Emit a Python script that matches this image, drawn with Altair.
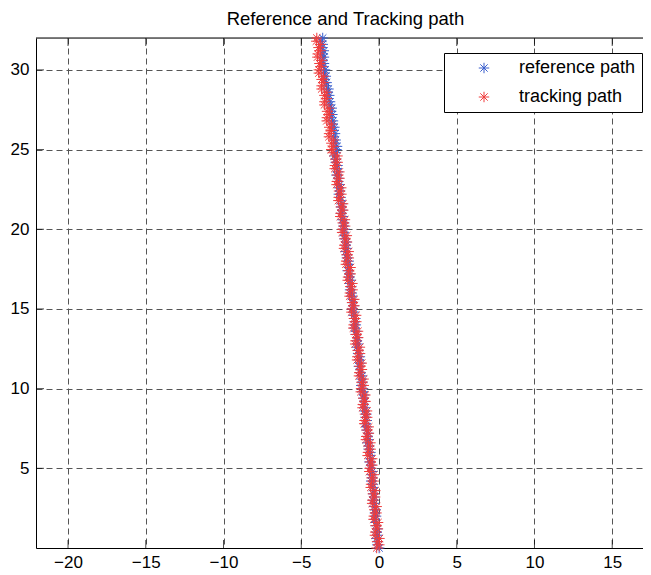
import altair as alt
import pandas as pd

# ---- data ----
y_vals = [0.0, 0.2, 0.4, 0.6, 0.8, 1.0, 1.2, 1.4, 1.6, 1.8,
          2.0, 2.2, 2.4, 2.6, 2.8, 3.0, 3.2, 3.4, 3.6, 3.8,
          4.0, 4.2, 4.4, 4.6, 4.8, 5.0, 5.2, 5.4, 5.6, 5.8,
          6.0, 6.2, 6.4, 6.6, 6.8, 7.0, 7.2, 7.4, 7.6, 7.8,
          8.0, 8.2, 8.4, 8.6, 8.8, 9.0, 9.2, 9.4, 9.6, 9.8,
          10.0, 10.2, 10.4, 10.6, 10.8, 11.0, 11.2, 11.4, 11.6, 11.8,
          12.0, 12.2, 12.4, 12.6, 12.8, 13.0, 13.2, 13.4, 13.6, 13.8,
          14.0, 14.2, 14.4, 14.6, 14.8, 15.0, 15.2, 15.4, 15.6, 15.8,
          16.0, 16.2, 16.4, 16.6, 16.8, 17.0, 17.2, 17.4, 17.6, 17.8,
          18.0, 18.2, 18.4, 18.6, 18.8, 19.0, 19.2, 19.4, 19.6, 19.8,
          20.0, 20.2, 20.4, 20.6, 20.8, 21.0, 21.2, 21.4, 21.6, 21.8,
          22.0, 22.2, 22.4, 22.6, 22.8, 23.0, 23.2, 23.4, 23.6, 23.8,
          24.0, 24.2, 24.4, 24.6, 24.8, 25.0, 25.2, 25.4, 25.6, 25.8,
          26.0, 26.2, 26.4, 26.6, 26.8, 27.0, 27.2, 27.4, 27.6, 27.8,
          28.0, 28.2, 28.4, 28.6, 28.8, 29.0, 29.2, 29.4, 29.6, 29.8,
          30.0, 30.2, 30.4, 30.6, 30.8, 31.0, 31.2, 31.4, 31.6, 31.8,
          32.0]

ref_x = [0.01, -0.10, -0.07, -0.17, -0.08, -0.15, -0.10, -0.21, -0.17, -0.28,
         -0.19, -0.26, -0.21, -0.31, -0.28, -0.39, -0.30, -0.37, -0.31, -0.42,
         -0.39, -0.50, -0.41, -0.47, -0.42, -0.53, -0.50, -0.61, -0.53, -0.60,
         -0.55, -0.66, -0.63, -0.75, -0.66, -0.73, -0.68, -0.79, -0.77, -0.88,
         -0.79, -0.86, -0.81, -0.93, -0.90, -1.01, -0.92, -0.99, -0.95, -1.06,
         -1.03, -1.14, -1.06, -1.13, -1.09, -1.20, -1.17, -1.29, -1.20, -1.28,
         -1.23, -1.34, -1.32, -1.43, -1.35, -1.42, -1.37, -1.49, -1.46, -1.58,
         -1.49, -1.56, -1.52, -1.63, -1.61, -1.72, -1.63, -1.71, -1.66, -1.78,
         -1.75, -1.86, -1.78, -1.85, -1.81, -1.92, -1.89, -2.01, -1.92, -2.00,
         -1.95, -2.06, -2.04, -2.15, -2.07, -2.14, -2.09, -2.21, -2.18, -2.30,
         -2.21, -2.28, -2.24, -2.35, -2.33, -2.44, -2.35, -2.43, -2.38, -2.50,
         -2.47, -2.58, -2.50, -2.57, -2.53, -2.64, -2.61, -2.73, -2.64, -2.72,
         -2.67, -2.78, -2.76, -2.87, -2.79, -2.74, -2.70, -2.82, -2.79, -2.91,
         -2.83, -2.91, -2.87, -2.98, -2.96, -3.08, -3.00, -3.08, -3.04, -3.16,
         -3.15, -3.28, -3.20, -3.29, -3.25, -3.38, -3.37, -3.49, -3.42, -3.50,
         -3.47, -3.57, -3.54, -3.64, -3.54, -3.61, -3.55, -3.65, -3.62, -3.72,
         -3.62]

trk_x = [-0.15, 0.02, -0.12, 0.03, -0.26, -0.24, -0.07, -0.21, -0.06, -0.35,
         -0.33, -0.16, -0.30, -0.15, -0.44, -0.42, -0.25, -0.39, -0.24, -0.53,
         -0.51, -0.34, -0.48, -0.33, -0.62, -0.60, -0.43, -0.57, -0.44, -0.73,
         -0.71, -0.54, -0.68, -0.55, -0.84, -0.82, -0.65, -0.79, -0.66, -0.95,
         -0.93, -0.76, -0.90, -0.77, -1.06, -1.04, -0.87, -1.01, -0.88, -1.17,
         -1.15, -0.98, -1.13, -0.99, -1.29, -1.27, -1.10, -1.25, -1.11, -1.41,
         -1.39, -1.22, -1.37, -1.23, -1.53, -1.51, -1.34, -1.49, -1.35, -1.65,
         -1.63, -1.46, -1.61, -1.47, -1.77, -1.75, -1.58, -1.73, -1.59, -1.89,
         -1.87, -1.70, -1.85, -1.71, -2.01, -1.99, -1.82, -1.97, -1.83, -2.13,
         -2.11, -1.94, -2.09, -1.95, -2.25, -2.23, -2.06, -2.21, -2.07, -2.37,
         -2.35, -2.18, -2.33, -2.19, -2.49, -2.47, -2.30, -2.45, -2.31, -2.61,
         -2.59, -2.42, -2.57, -2.43, -2.73, -2.71, -2.54, -2.69, -2.55, -2.85,
         -2.83, -2.66, -2.81, -2.67, -2.97, -3.07, -2.91, -3.06, -2.92, -3.22,
         -3.21, -3.05, -3.20, -3.06, -3.36, -3.35, -3.19, -3.34, -3.21, -3.51,
         -3.51, -3.36, -3.51, -3.39, -3.69, -3.69, -3.54, -3.69, -3.57, -3.87,
         -3.87, -3.69, -3.83, -3.68, -3.96, -3.94, -3.76, -3.89, -3.75, -4.03,
         -4.00]

series_names = ["reference path", "tracking path"]
series_colors = ["#3a5fcd", "#f03c3c"]
x_ticks = [-20, -15, -10, -5, 0, 5, 10, 15]
y_ticks = [5, 10, 15, 20, 25, 30]
x_domain = [-22.06, 16.98]
y_domain = [0, 32]
title_text = "Reference and Tracking path"

# ---- tables built from the arrays ----
n = len(y_vals)
df = pd.DataFrame({
    "x": ref_x + trk_x,
    "y": y_vals + y_vals,
    "series": [series_names[0]] * n + [series_names[1]] * n,
    "order": list(range(2 * n)),
})
tick_x_df = pd.DataFrame({
    "x": x_ticks + x_ticks,
    "y": [y_domain[0]] * len(x_ticks) + [y_domain[1]] * len(x_ticks),
})
tick_y_df = pd.DataFrame({"x": [x_domain[0]] * len(y_ticks), "y": y_ticks})
top_df = pd.DataFrame({"y": [y_domain[1]]})

FONT = "Liberation Sans"
STAR = "M-1,0L1,0M0,-1L0,1M-0.7,-0.7L0.7,0.7M-0.7,0.7L0.7,-0.7"

xscale = alt.Scale(domain=x_domain, nice=False, zero=False)
yscale = alt.Scale(domain=y_domain, nice=False, zero=False)
xaxis = alt.Axis(values=x_ticks, title=None, grid=True, ticks=False,
                 labelFont=FONT, labelFontSize=17, labelColor="black",
                 labelPadding=6, domainColor="black", domainWidth=1,
                 gridColor="#555555", gridDash=[6, 4], gridWidth=1,
                 labelFlush=False)
yaxis = alt.Axis(values=y_ticks, title=None, grid=True, ticks=False,
                 labelFont=FONT, labelFontSize=17, labelColor="black",
                 labelPadding=7, domainColor="black", domainWidth=1,
                 gridColor="#555555", gridDash=[6, 4], gridWidth=1,
                 labelFlush=False)

points = alt.Chart(df).mark_point(
    shape=STAR, filled=False, size=110, strokeWidth=1, opacity=1
).encode(
    x=alt.X("x:Q", scale=xscale, axis=xaxis),
    y=alt.Y("y:Q", scale=yscale, axis=yaxis),
    color=alt.Color(
        "series:N",
        scale=alt.Scale(domain=series_names, range=series_colors),
        legend=alt.Legend(
            title=None, orient="none", legendX=408, legendY=15,
            padding=6, strokeColor="black", fillColor="white",
            cornerRadius=0, symbolType=STAR, symbolSize=110,
            symbolStrokeWidth=1, symbolOffset=25, labelOffset=26,
            labelFont=FONT, labelFontSize=18, labelColor="black",
            rowPadding=11,
        ),
    ),
    order=alt.Order("order:Q"),
)

xticks_layer = alt.Chart(tick_x_df).mark_tick(
    orient="vertical", size=16, thickness=1, color="black", clip=True
).encode(
    x=alt.X("x:Q", scale=xscale, axis=xaxis),
    y=alt.Y("y:Q", scale=yscale, axis=yaxis),
)

yticks_layer = alt.Chart(tick_y_df).mark_tick(
    orient="horizontal", size=16, thickness=1, color="black", clip=True
).encode(
    x=alt.X("x:Q", scale=xscale, axis=xaxis),
    y=alt.Y("y:Q", scale=yscale, axis=yaxis),
)

top_rule = alt.Chart(top_df).mark_rule(color="black", strokeWidth=1).encode(
    y=alt.Y("y:Q", scale=yscale, axis=yaxis),
)

chart = alt.layer(xticks_layer, yticks_layer, top_rule, points).properties(
    width=607,
    height=510,
    title=alt.TitleParams(title_text, font=FONT, fontSize=18.5,
                          fontWeight="normal", color="black",
                          anchor="middle", dx=6, dy=2),
    autosize=alt.AutoSizeParams(type="none"),
    padding={"left": 28, "top": 30, "right": 0, "bottom": 24},
).configure_view(stroke="transparent").configure(background="white")

chart.save("out.html", embed_options={"renderer": "svg", "actions": False})
